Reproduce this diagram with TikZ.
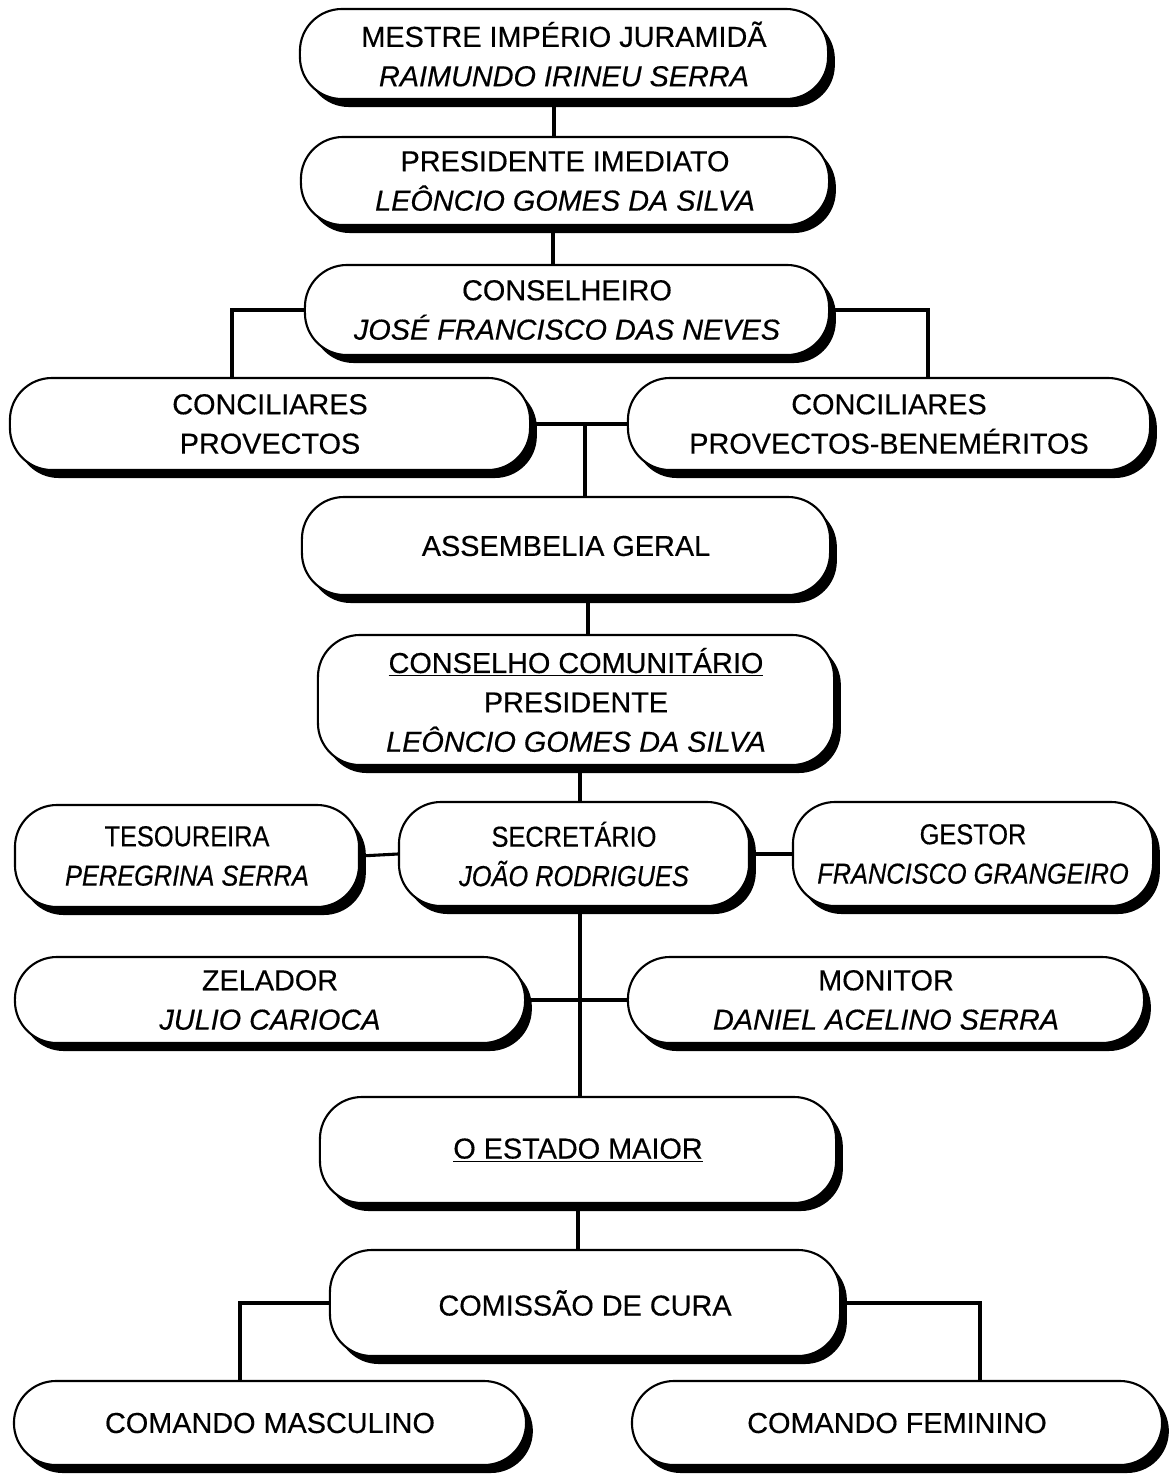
\documentclass[tikz,border=0pt]{standalone}
\usepackage{fontspec}
\setmainfont[FakeBold=0.4]{Liberation Sans}
\newfontfamily\narrowfont[FakeStretch=0.88,FakeBold=0.4]{Liberation Sans}
\usetikzlibrary{shadows}
\tikzstyle{bx}=[draw=black,line width=1.5pt,fill=white,rounded corners=1.05cm,align=center,inner sep=2pt,font=\fontsize{20.5}{28}\selectfont,drop shadow={shadow xshift=.17cm,shadow yshift=-.2cm,fill=black,opacity=1}]
\tikzstyle{ln}=[line width=2.2pt]

\begin{document}
\begin{tikzpicture}[x=.025cm,y=-.025cm]
\useasboundingbox (0,0) rectangle (1173,1475);
\node[bx,minimum width=13.2cm,minimum height=2.25cm] (mestre) at (564,54) {MESTRE IMPÉRIO JURAMIDÃ\\ \textit{RAIMUNDO IRINEU SERRA}};
\node[bx,minimum width=13.2cm,minimum height=2.2cm] (pres) at (565,181) {PRESIDENTE IMEDIATO\\ \textit{LEÔNCIO GOMES DA SILVA}};
\node[bx,minimum width=13.1cm,minimum height=2.25cm] (cons) at (567,310) {CONSELHEIRO\\ \textit{JOSÉ FRANCISCO DAS NEVES}};
\node[bx,minimum width=13cm,minimum height=2.3cm] (provec) at (270,424) {CONCILIARES\\ PROVECTOS};
\node[bx,minimum width=13.05cm,minimum height=2.3cm] (benem) at (889,424) {CONCILIARES\\ PROVECTOS-BENEMÉRITOS};
\node[bx,minimum width=13.2cm,minimum height=2.45cm] (assemb) at (566,546) {ASSEMBELIA GERAL};
\node[bx,minimum width=12.9cm,minimum height=3.25cm] (conselho) at (576,700) {\underline{CONSELHO COMUNITÁRIO}\\ PRESIDENTE\\ \textit{LEÔNCIO GOMES DA SILVA}};
\node[bx,minimum width=8.6cm,minimum height=2.55cm,font=\fontsize{20.5}{28}\narrowfont] (tesou) at (187,856) {TESOUREIRA\\ \textit{PEREGRINA SERRA}};
\node[bx,minimum width=8.75cm,minimum height=2.6cm,font=\fontsize{20.5}{28}\narrowfont] (secret) at (574,854) {SECRETÁRIO\\ \textit{JOÃO RODRIGUES}};
\node[bx,minimum width=9cm,minimum height=2.6cm,font=\fontsize{20.5}{28}\narrowfont] (gestor) at (973,854) {GESTOR\\ \textit{FRANCISCO GRANGEIRO}};
\node[bx,minimum width=12.75cm,minimum height=2.15cm] (zelador) at (270,1000) {ZELADOR\\ \textit{JULIO CARIOCA}};
\node[bx,minimum width=12.9cm,minimum height=2.15cm] (monitor) at (886,1000) {MONITOR\\ \textit{DANIEL ACELINO SERRA}};
\node[bx,minimum width=12.9cm,minimum height=2.65cm] (estado) at (578,1150) {\underline{O ESTADO MAIOR}};
\node[bx,minimum width=12.75cm,minimum height=2.65cm] (comissao) at (585,1303) {COMISSÃO DE CURA};
\node[bx,minimum width=12.8cm,minimum height=2.1cm] (masc) at (270,1423) {COMANDO MASCULINO};
\node[bx,minimum width=13.25cm,minimum height=2.1cm] (fem) at (897,1423) {COMANDO FEMININO};
\draw[ln] ([xshift=-.25cm]mestre.south) -- ([xshift=-.25cm]mestre.south |- pres.north);
\draw[ln] ([xshift=-.3cm]pres.south) -- ([xshift=-.3cm]pres.south |- cons.north);
\draw[ln] (cons.west) -| ([xshift=-.95cm]provec.north);
\draw[ln] (cons.east) -| ([xshift=.975cm]benem.north);
\draw[ln] (provec.east) -- (benem.west);
\draw[ln] ([xshift=.475cm]assemb.north |- provec.east) -- ([xshift=.475cm]assemb.north);
\draw[ln] ([xshift=.55cm]assemb.south) -- ([xshift=.55cm]assemb.south |- conselho.north);
\draw[ln] ([xshift=.1cm]conselho.south) -- ([xshift=.1cm]conselho.south |- secret.north);
\draw[ln] (tesou.east) -- (secret.west);
\draw[ln] (secret.east) -- (gestor.west);
\draw[ln] ([xshift=.15cm]secret.south) -- ([xshift=.15cm]secret.south |- estado.north);
\draw[ln] (zelador.east) -- (monitor.west);
\draw[ln] (estado.south) -- (estado.south |- comissao.north);
\draw[ln] (comissao.west) -| ([xshift=-.75cm]masc.north);
\draw[ln] (comissao.east) -| ([xshift=2.075cm]fem.north);
\end{tikzpicture}
\end{document}
